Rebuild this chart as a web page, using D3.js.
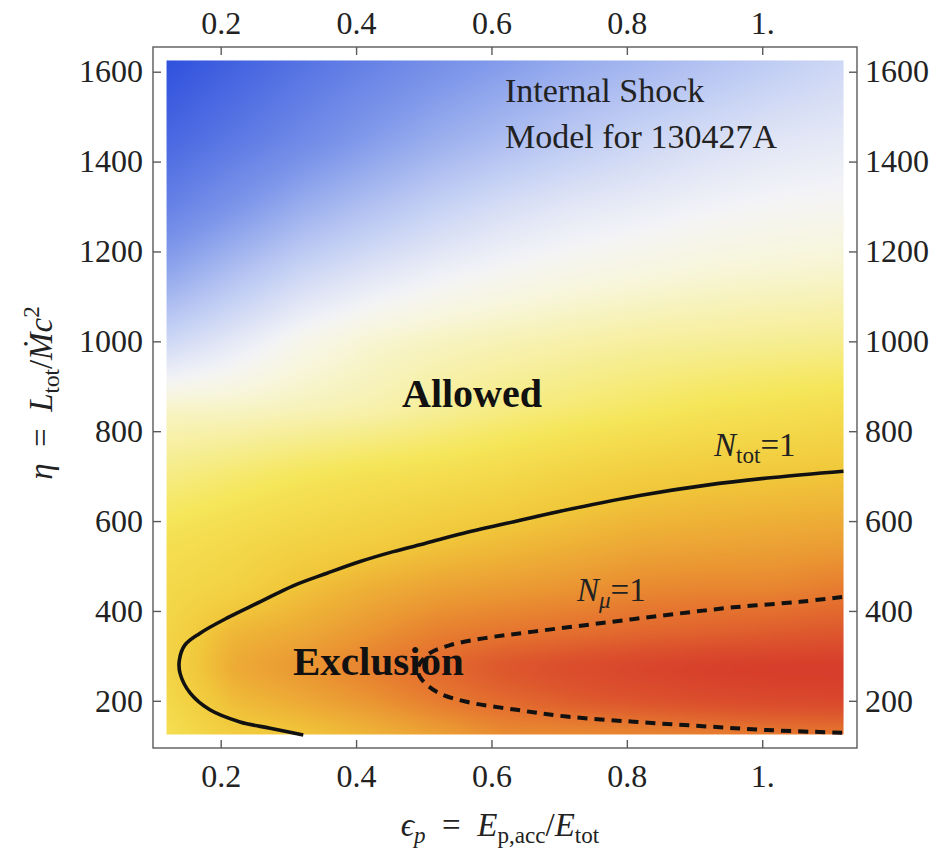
<!DOCTYPE html>
<html>
<head>
<meta charset="utf-8">
<script src="https://cdn.jsdelivr.net/npm/d3@7"></script>
<style>
body { margin: 0; background: #fff; }
svg { display: block; font-family: "Liberation Serif", "Times New Roman", serif; }
</style>
</head>
<body>
<svg id="chart" width="936" height="848"></svg>
<script>
// grid of the shaded field (colour level 0..1)
var xCols = [0.12, 0.22, 0.32, 0.42, 0.52, 0.62, 0.72, 0.82, 0.92, 1.02, 1.12];
var etaRows = [125, 200, 275, 350, 450, 550, 700, 850, 1000, 1150, 1300, 1450, 1625];
var lev012 = [0.68, 0.70, 0.71, 0.71, 0.70, 0.68, 0.62, 0.56, 0.42, 0.29, 0.17, 0.08, 0.0];
var lev022 = [0.735, 0.77, 0.80, 0.78, 0.72, 0.70, 0.64, 0.56, 0.47, 0.36, 0.24, 0.14, 0.06];
var lev032 = [0.75, 0.80, 0.83, 0.80, 0.76, 0.72, 0.66, 0.57, 0.52, 0.42, 0.31, 0.20, 0.12];
var lev042 = [0.78, 0.83, 0.86, 0.83, 0.79, 0.735, 0.675, 0.58, 0.55, 0.46, 0.36, 0.26, 0.17];
var lev052 = [0.81, 0.865, 0.895, 0.86, 0.81, 0.755, 0.685, 0.60, 0.565, 0.49, 0.405, 0.31, 0.22];
var lev062 = [0.84, 0.895, 0.935, 0.875, 0.82, 0.77, 0.70, 0.62, 0.575, 0.51, 0.44, 0.35, 0.26];
var lev072 = [0.84, 0.92, 0.96, 0.885, 0.83, 0.785, 0.72, 0.635, 0.585, 0.525, 0.465, 0.385, 0.30];
var lev082 = [0.845, 0.94, 0.98, 0.90, 0.845, 0.80, 0.735, 0.65, 0.595, 0.535, 0.48, 0.415, 0.33];
var lev092 = [0.855, 0.955, 0.995, 0.91, 0.85, 0.805, 0.745, 0.665, 0.60, 0.545, 0.495, 0.44, 0.36];
var lev102 = [0.865, 0.965, 1.0, 0.92, 0.85, 0.81, 0.75, 0.675, 0.605, 0.55, 0.505, 0.46, 0.39];
var lev112 = [0.868, 0.97, 1.0, 0.93, 0.865, 0.815, 0.755, 0.685, 0.61, 0.555, 0.51, 0.47, 0.42];

// N_tot = 1 contour
var ntotX = [0.322, 0.273, 0.2285, 0.184, 0.155, 0.140, 0.139, 0.147, 0.169, 0.209, 0.258, 0.307, 0.357, 0.406, 0.455, 0.504, 0.554, 0.6225, 0.721, 0.819, 0.918, 1.016, 1.120];
var ntotEta = [124, 139, 153, 180, 217, 261, 291, 324, 350, 384, 420, 456, 484, 510, 532, 551, 571, 595, 628, 657, 680, 697, 711];
// N_mu = 1 contour
var nmuX = [1.118, 1.007, 0.908, 0.810, 0.711, 0.637, 0.563, 0.519, 0.494, 0.492, 0.509, 0.539, 0.588, 0.662, 0.760, 0.859, 0.957, 1.056, 1.118];
var nmuEta = [129, 135, 144, 153.5, 165, 180, 198, 220, 254, 276, 306, 324, 339, 354, 372.5, 391, 408, 420.5, 431];

var xTicks = [0.2, 0.4, 0.6, 0.8, 1.0];
var yTicks = [200, 400, 600, 800, 1000, 1200, 1400, 1600];

// temperature-like colour map
var colorStops = [0, 0.25, 0.4, 0.5, 0.54, 0.58, 0.66, 0.75, 0.82, 0.87, 0.93, 1];
var colorHex = ["#2f50dd", "#7f98ea", "#c4d0f4", "#f4f4f7", "#f7f6dc", "#f7f1b0", "#f5e658", "#f1c83a", "#eb9c33", "#e6782f", "#dd562d", "#d63b2b"];

var grid = [lev012, lev022, lev032, lev042, lev052, lev062, lev072, lev082, lev092, lev102, lev112];

var svg = d3.select('#chart');
var x = d3.scaleLinear().domain([0.1, 1.14]).range([153, 857]);
var y = d3.scaleLinear().domain([95, 1655]).range([748, 47]);
var color = d3.scaleLinear().domain(colorStops).range(colorHex).clamp(true);

function levelAt(xv, ev) {
	xv = Math.max(xCols[0], Math.min(xCols[xCols.length - 1], xv));
	ev = Math.max(etaRows[0], Math.min(etaRows[etaRows.length - 1], ev));
	var ci = Math.min(xCols.length - 2, Math.max(0, d3.bisectRight(xCols, xv) - 1));
	var ri = Math.min(etaRows.length - 2, Math.max(0, d3.bisectRight(etaRows, ev) - 1));
	var tx = (xv - xCols[ci]) / (xCols[ci + 1] - xCols[ci]);
	var ty = (ev - etaRows[ri]) / (etaRows[ri + 1] - etaRows[ri]);
	var a = grid[ci][ri] * (1 - ty) + grid[ci][ri + 1] * ty;
	var b = grid[ci + 1][ri] * (1 - ty) + grid[ci + 1][ri + 1] * ty;
	return a * (1 - tx) + b * tx;
}

// colour lookup table
var lut = d3.range(1025).map(function(i) { return d3.rgb(color(i / 1024)); });

var px0 = x(0.12), px1 = x(1.12), py0 = y(1625), py1 = y(125);
var cw = Math.round(px1 - px0), ch = Math.round(py1 - py0);
var pad = 20;
var raw = document.createElement('canvas');
raw.width = cw + 2 * pad; raw.height = ch + 2 * pad;
var rctx = raw.getContext('2d');
var img = rctx.createImageData(raw.width, raw.height);
for (var j = 0; j < raw.height; j++) {
	var ev = y.invert(py0 - pad + j + 0.5);
	for (var i = 0; i < raw.width; i++) {
		var xv = x.invert(px0 - pad + i + 0.5);
		var lv = Math.max(0, Math.min(1, levelAt(xv, ev)));
		var c = lut[Math.round(lv * 1024)];
		var k = (j * raw.width + i) * 4;
		img.data[k] = c.r; img.data[k + 1] = c.g; img.data[k + 2] = c.b; img.data[k + 3] = 255;
	}
}
rctx.putImageData(img, 0, 0);
var out = document.createElement('canvas');
out.width = cw; out.height = ch;
var octx = out.getContext('2d');
octx.filter = 'blur(7px)';
octx.drawImage(raw, -pad, -pad);

svg.append('image')
	.attr('x', px0).attr('y', py0)
	.attr('width', cw).attr('height', ch)
	.attr('preserveAspectRatio', 'none')
	.attr('href', out.toDataURL());

// text helper with italic / sub / sup parts
function rich(sel, parts, size) {
	var cur = 0;
	parts.forEach(function(p) {
		var off = p.sub ? size * 0.22 : (p.sup ? -size * 0.4 : 0);
		var t = sel.append('tspan').attr('dy', off - cur).text(p.t);
		cur = off;
		if (p.sub || p.sup) t.attr('font-size', size * 0.7);
		if (p.i) t.style('font-style', 'italic');
	});
}

// region labels
svg.append('text').attr('x', 505).attr('y', 102).attr('font-size', 34).attr('fill', '#222').text('Internal Shock');
svg.append('text').attr('x', 505).attr('y', 148).attr('font-size', 34).attr('fill', '#222').text('Model for 130427A');
svg.append('text').attr('x', 402).attr('y', 407).attr('font-size', 40).attr('font-weight', 'bold').attr('fill', '#111').text('Allowed');
svg.append('text').attr('x', 293).attr('y', 675).attr('font-size', 41).attr('font-weight', 'bold').attr('fill', '#111').text('Exclusion');

var lab1 = svg.append('text').attr('x', 714).attr('y', 456).attr('font-size', 33).attr('fill', '#222');
rich(lab1, [{t: 'N', i: true}, {t: 'tot', sub: true}, {t: '=1'}], 33);
var lab2 = svg.append('text').attr('x', 577).attr('y', 601).attr('font-size', 33).attr('fill', '#222');
rich(lab2, [{t: 'N', i: true}, {t: '\u03bc', sub: true, i: true}, {t: '=1'}], 33);

// contours
var line = d3.line()
	.x(function(d) { return x(d[0]); })
	.y(function(d) { return y(d[1]); })
	.curve(d3.curveCatmullRom.alpha(0.5));

svg.append('path')
	.attr('d', line(d3.zip(ntotX, ntotEta)))
	.attr('fill', 'none').attr('stroke', '#111').attr('stroke-width', 3.6);

svg.append('path')
	.attr('d', line(d3.zip(nmuX, nmuEta)))
	.attr('fill', 'none').attr('stroke', '#111').attr('stroke-width', 4)
	.attr('stroke-dasharray', '10,7');

// frame and axes
svg.append('rect')
	.attr('x', x(0.1)).attr('y', y(1655))
	.attr('width', x(1.14) - x(0.1)).attr('height', y(95) - y(1655))
	.attr('fill', 'none').attr('stroke', '#5a5a5a').attr('stroke-width', 1.4);

var fmtX = function(d) { return d === 1 ? '1.' : d3.format('.1f')(d); };
var fmtY = d3.format('d');

function styleAxis(g) {
	g.select('.domain').remove();
	g.selectAll('.tick line').attr('stroke', '#5a5a5a').attr('stroke-width', 1.4);
	g.selectAll('.tick text').attr('font-size', 32).attr('fill', '#222')
		.attr('font-family', '"Liberation Serif", "Times New Roman", serif');
}

svg.append('g').attr('transform', 'translate(0,748)')
	.call(d3.axisBottom(x).tickValues(xTicks).tickFormat(fmtX).tickSize(-8).tickPadding(16))
	.call(styleAxis);
svg.append('g').attr('transform', 'translate(0,47)')
	.call(d3.axisTop(x).tickValues(xTicks).tickFormat(fmtX).tickSize(-8).tickPadding(13))
	.call(styleAxis);
svg.append('g').attr('transform', 'translate(153,0)')
	.call(d3.axisLeft(y).tickValues(yTicks).tickFormat(fmtY).tickSize(-8).tickPadding(10))
	.call(styleAxis);
svg.append('g').attr('transform', 'translate(857,0)')
	.call(d3.axisRight(y).tickValues(yTicks).tickFormat(fmtY).tickSize(-8).tickPadding(8))
	.call(styleAxis);

// axis titles
var xt = svg.append('text').attr('x', 500).attr('y', 836).attr('text-anchor', 'middle')
	.attr('font-size', 33).attr('fill', '#222');
rich(xt, [{t: '\u03f5', i: true}, {t: 'p', sub: true, i: true}, {t: '\u2002=\u2002'}, {t: 'E', i: true},
	{t: 'p,acc', sub: true}, {t: '/'}, {t: 'E', i: true}, {t: 'tot', sub: true}], 33);

var yt = svg.append('text').attr('transform', 'translate(52,393) rotate(-90)').attr('text-anchor', 'middle')
	.attr('font-size', 33).attr('fill', '#222');
rich(yt, [{t: '\u03b7', i: true}, {t: '\u2002=\u2002'}, {t: 'L', i: true}, {t: 'tot', sub: true}, {t: '/'},
	{t: '\u1e40', i: true}, {t: 'c', i: true}, {t: '2', sup: true}], 33);
</script>
</body>
</html>
